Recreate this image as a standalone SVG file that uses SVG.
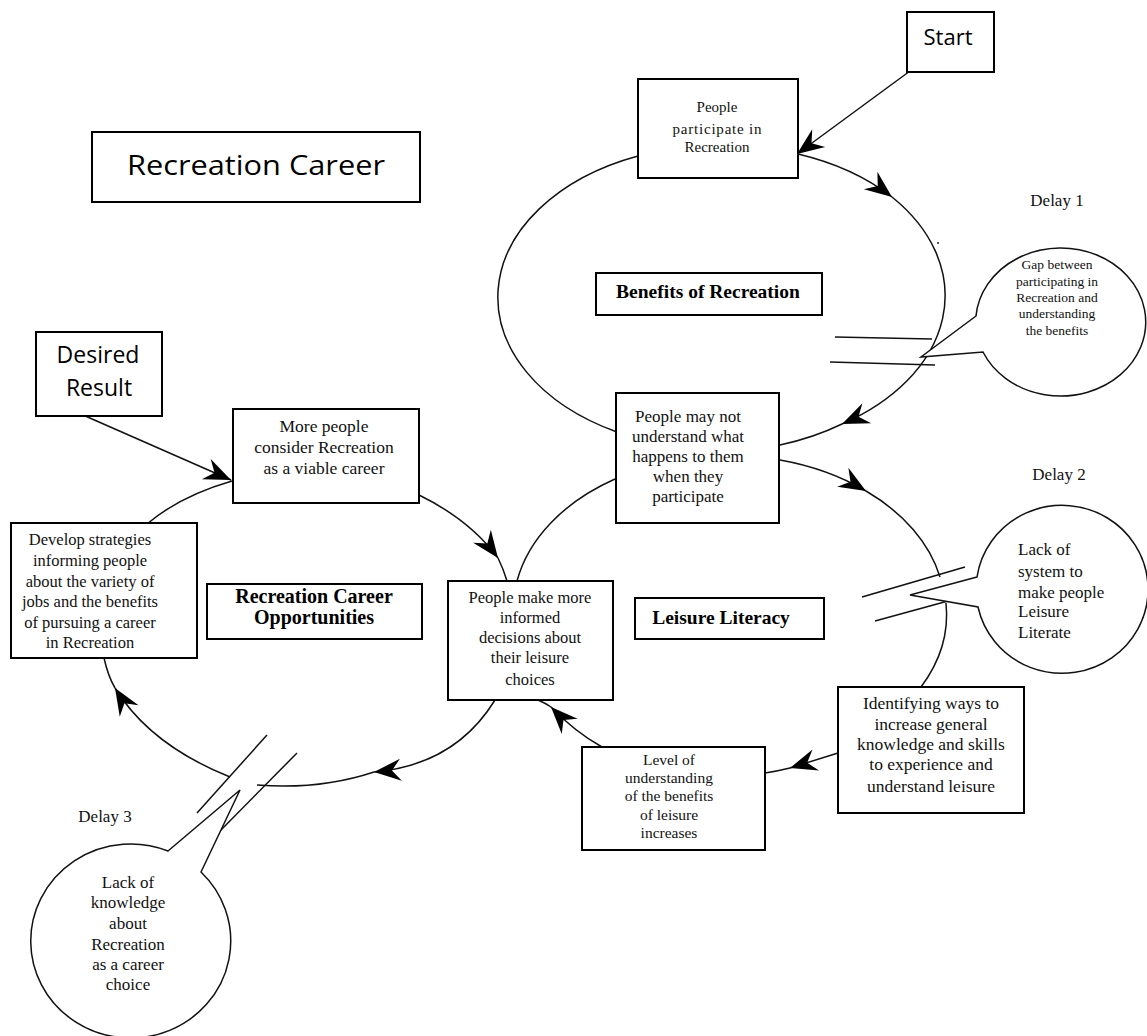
<svg xmlns="http://www.w3.org/2000/svg" width="1147" height="1036" viewBox="0 0 1147 1036">
<defs>
<marker id="ah" markerUnits="userSpaceOnUse" markerWidth="32" markerHeight="26" refX="27" refY="11" orient="auto" overflow="visible">
<path d="M0,0 L27,11 L0,22 L9,11 Z" fill="#000"/>
</marker>
</defs>
<style>
.box{fill:#fff;stroke:#000;stroke-width:2}
.ln{fill:none;stroke:#111;stroke-width:1.5}
.bub{fill:#fff;stroke:#111;stroke-width:1.5}
.s{font-family:"Liberation Serif","Times New Roman",serif;fill:#111;text-anchor:middle}
.b{font-family:"Liberation Serif","Times New Roman",serif;font-weight:bold;fill:#000;text-anchor:middle}
.ss{font-family:"Open Sans","Liberation Sans",Arial,sans-serif;fill:#000;text-anchor:middle}
</style>
<rect width="1147" height="1036" fill="#fff"/>

<g id="connectors">
<!-- Benefits loop -->
<line class="ln" x1="910" y1="71" x2="797" y2="154" marker-end="url(#ah)"/>
<path class="ln" d="M798,154 A222,152 0 0 1 892,197" marker-end="url(#ah)"/>
<path class="ln" d="M892,197 A222,152 0 0 1 842,424" marker-end="url(#ah)"/>
<path class="ln" d="M842,424 A222,152 0 0 1 780,445"/>
<path class="ln" d="M617,432 A222,152 0 0 1 638,156"/>
<!-- Leisure loop -->
<path class="ln" d="M780,460 A216,154 0 0 1 866,491" marker-end="url(#ah)"/>
<path class="ln" d="M866,491 A216,154 0 0 1 940,577"/>
<path class="ln" d="M946,603 A216,154 0 0 1 921,687"/>
<path class="ln" d="M838,753 L790,768" marker-end="url(#ah)"/>
<path class="ln" d="M790,768 Q778,771 765,773"/>
<path class="ln" d="M602,747 Q575,732 551,707" marker-end="url(#ah)"/>
<path class="ln" d="M551,707 Q545,703 538,700"/>
<path class="ln" d="M517,581 A216,154 0 0 1 615,479"/>
<!-- Left loop -->
<line class="ln" x1="83" y1="415" x2="231" y2="480" marker-end="url(#ah)"/>
<path class="ln" d="M419,495 Q470,520 498,558" marker-end="url(#ah)"/>
<path class="ln" d="M498,558 Q503,568 507,581"/>
<path class="ln" d="M147,524 Q180,496 232,481"/>
<path class="ln" d="M495,700 Q455,765 374,772" marker-end="url(#ah)"/>
<path class="ln" d="M374,772 Q320,790 257,785"/>
<path class="ln" d="M230,777 Q150,745 115,688" marker-end="url(#ah)"/>
<path class="ln" d="M115,688 Q108,676 104,658"/>
<!-- delay marks -->
<line class="ln" x1="835" y1="337" x2="932" y2="339"/>
<line class="ln" x1="830" y1="362" x2="935" y2="365"/>
<line class="ln" x1="862" y1="597" x2="965" y2="567"/>
<line class="ln" x1="875" y1="621" x2="948" y2="601"/>
<line class="ln" x1="267" y1="735" x2="197" y2="813"/>
<line class="ln" x1="297" y1="753" x2="218" y2="833"/>
<circle cx="938" cy="243" r="1" fill="#222"/>
</g>

<g id="title">
<rect class="box" x="92" y="132" width="328" height="70"/>
<text class="ss" x="256" y="175" font-size="28" textLength="258" lengthAdjust="spacingAndGlyphs">Recreation Career</text>
</g>

<g id="start">
<rect class="box" x="907" y="12" width="87" height="60"/>
<text class="ss" x="948" y="45" font-size="22">Start</text>
</g>

<g id="participate">
<rect class="box" x="638" y="79" width="160" height="99"/>
<text class="s" font-size="15"><tspan x="717" y="112">People</tspan><tspan x="717" y="134" textLength="89">participate  in</tspan><tspan x="717" y="152">Recreation</tspan></text>
</g>

<g id="benefits">
<rect class="box" x="596" y="273" width="226" height="42"/>
<text class="b" x="708" y="298" font-size="19.5">Benefits of Recreation</text>
</g>

<g id="delay1">
<text class="s" x="1057" y="206" font-size="17">Delay  1</text>
<path class="bub" d="M976,316 L921,357 L983,352 A85,74 0 1 0 976,316 Z"/>
<text class="s" font-size="13.5"><tspan x="1057" y="269">Gap between</tspan><tspan x="1057" y="286">participating in</tspan><tspan x="1057" y="302">Recreation and</tspan><tspan x="1057" y="318">understanding</tspan><tspan x="1057" y="335">the benefits</tspan></text>
</g>

<g id="notunderstand">
<rect class="box" x="616" y="393" width="163" height="130"/>
<text class="s" font-size="17"><tspan x="688" y="422">People may not</tspan><tspan x="688" y="442">understand what</tspan><tspan x="688" y="462">happens to them</tspan><tspan x="688" y="482">when they</tspan><tspan x="688" y="502">participate</tspan></text>
</g>

<g id="delay2">
<text class="s" x="1059" y="480" font-size="17">Delay  2</text>
<path class="bub" d="M977,577 L910,595 L978,607 A86,84 0 1 0 977,577 Z"/>
<text class="s" font-size="17" style="text-anchor:start"><tspan x="1018" y="555">Lack of</tspan><tspan x="1018" y="577">system to</tspan><tspan x="1018" y="598">make people</tspan><tspan x="1018" y="617">Leisure</tspan><tspan x="1018" y="638">Literate</tspan></text>
</g>

<g id="desired">
<rect class="box" x="36" y="332" width="126" height="84"/>
<text class="ss" font-size="23"><tspan x="98" y="363">Desired</tspan><tspan x="99" y="396">Result</tspan></text>
</g>

<g id="moreconsider">
<rect class="box" x="233" y="409" width="186" height="94"/>
<text class="s" font-size="17.5"><tspan x="324" y="432">More people</tspan><tspan x="324" y="453">consider Recreation</tspan><tspan x="324" y="474">as a viable career</tspan></text>
</g>

<g id="develop">
<rect class="box" x="11" y="523" width="186" height="135"/>
<text class="s" font-size="16.5"><tspan x="90" y="545">Develop  strategies</tspan><tspan x="90" y="566">informing  people</tspan><tspan x="90" y="587">about the variety  of</tspan><tspan x="90" y="607">jobs and the benefits</tspan><tspan x="90" y="628">of pursuing  a career</tspan><tspan x="90" y="648">in  Recreation</tspan></text>
</g>

<g id="rco">
<rect class="box" x="207" y="584" width="215" height="55"/>
<text class="b" font-size="20"><tspan x="314" y="603">Recreation Career</tspan><tspan x="314" y="624">Opportunities</tspan></text>
</g>

<g id="informed">
<rect class="box" x="448" y="581" width="165" height="119"/>
<text class="s" font-size="16.5"><tspan x="530" y="603">People make more</tspan><tspan x="530" y="623">informed</tspan><tspan x="530" y="643">decisions about</tspan><tspan x="530" y="663">their leisure</tspan><tspan x="530" y="685">choices</tspan></text>
</g>

<g id="leisure">
<rect class="box" x="635" y="598" width="189" height="41"/>
<text class="b" x="721" y="624" font-size="19.5">Leisure Literacy</text>
</g>

<g id="identifying">
<rect class="box" x="838" y="687" width="186" height="126"/>
<text class="s" font-size="17.5"><tspan x="931" y="709">Identifying ways to</tspan><tspan x="931" y="730">increase general</tspan><tspan x="931" y="750">knowledge and skills</tspan><tspan x="931" y="770">to experience and</tspan><tspan x="931" y="792">understand leisure</tspan></text>
</g>

<g id="level">
<rect class="box" x="582" y="747" width="183" height="103"/>
<text class="s" font-size="15.5"><tspan x="669" y="765">Level   of</tspan><tspan x="669" y="783">understanding</tspan><tspan x="669" y="801">of the benefits</tspan><tspan x="669" y="820">of leisure</tspan><tspan x="669" y="838">increases</tspan></text>
</g>

<g id="delay3">
<text class="s" x="105" y="822" font-size="17">Delay  3</text>
<path class="bub" d="M168,851 L240,790 L201,872 A100,97 0 1 1 168,851 Z"/>
<text class="s" font-size="17"><tspan x="128" y="888">Lack of</tspan><tspan x="128" y="908">knowledge</tspan><tspan x="128" y="929">about</tspan><tspan x="128" y="950">Recreation</tspan><tspan x="128" y="970">as a career</tspan><tspan x="128" y="990">choice</tspan></text>
</g>
</svg>
